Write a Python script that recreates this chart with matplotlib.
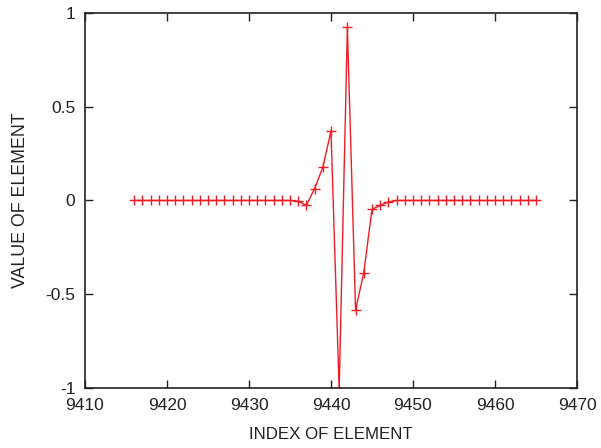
import numpy as np
import matplotlib
matplotlib.use("Agg")
import matplotlib.pyplot as plt

index = list(range(9416, 9466))

values = [0.0] * 20 + [
    -0.004,   # 9436
    -0.026,   # 9437
    0.063,    # 9438
    0.176,    # 9439
    0.370,    # 9440
    -1.01,    # 9441
    0.925,    # 9442
    -0.583,   # 9443
    -0.386,   # 9444
    -0.048,   # 9445
    -0.026,   # 9446
    -0.008,   # 9447
] + [0.0] * 18

x_ticks = [9410, 9420, 9430, 9440, 9450, 9460, 9470]
y_ticks = [-1, -0.5, 0, 0.5, 1]
y_labels = ["-1", "-0.5", "0", "0.5", "1"]

plt.rcParams["font.family"] = ["Liberation Sans", "DejaVu Sans"]

fig = plt.figure(figsize=(6.01, 4.48), dpi=100)
ax = fig.add_axes([0.1414, 0.134, 0.8186, 0.837])

ax.plot(
    index,
    values,
    color="#ee1c25",
    linewidth=1.0,
    marker="+",
    markersize=7,
    markeredgewidth=1.0,
)

ax.set_xlim(9410, 9470)
ax.set_ylim(-1, 1)
ax.set_xticks(x_ticks)
ax.set_yticks(y_ticks)
ax.set_yticklabels(y_labels)

ax.tick_params(
    direction="in",
    top=True,
    right=True,
    length=6,
    width=1,
    labelsize=12.5,
    colors="#222222",
    pad=7,
)

for s in ax.spines.values():
    s.set_linewidth(1.2)
    s.set_color("#222222")

ax.set_xlabel("INDEX OF ELEMENT", fontsize=12.2, color="#222222", labelpad=10)
ax.set_ylabel("VALUE OF ELEMENT", fontsize=12.8, color="#222222", labelpad=12)

fig.savefig("out.png", dpi=100)
